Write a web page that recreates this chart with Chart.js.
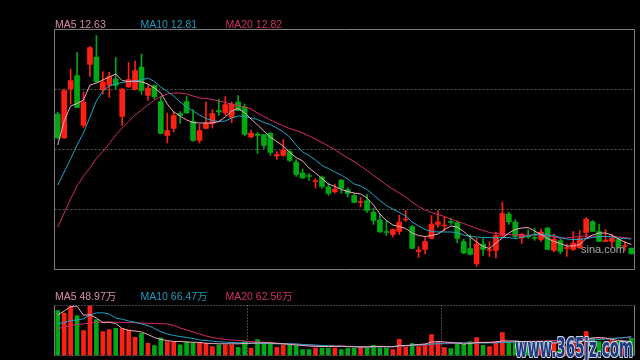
<!DOCTYPE html>
<html><head><meta charset="utf-8">
<script src="https://cdn.jsdelivr.net/npm/chart.js@4.4.1/dist/chart.umd.min.js"></script>
<style>
html,body{margin:0;padding:0;background:#000;width:640px;height:360px;overflow:hidden;}
#wrap{position:relative;width:640px;height:360px;background:#000;}
canvas{position:absolute;left:0;}
#main{top:0;}
#vol{top:280px;}
.lg{position:absolute;font-family:"Liberation Sans",Arial,"Noto Sans CJK SC",sans-serif;font-size:10.5px;line-height:1;white-space:nowrap;}
#sina{position:absolute;left:581px;top:244px;font:11px "Liberation Sans",Arial,sans-serif;line-height:1;color:#9c9c9c;text-shadow:0 0 1px #333;}
#wm2{position:absolute;left:515px;top:335px;font-family:"DejaVu Sans Condensed","DejaVu Sans",sans-serif;font-weight:bold;font-size:26px;line-height:1;color:#1d3b7e;white-space:nowrap;transform-origin:0 0;
text-shadow:1px 0 0 #c8d0e0,-1px 0 0 #c8d0e0,0 1px 0 #c8d0e0,0 -1px 0 #c8d0e0,1px 1px 0 #c8d0e0,-1px -1px 0 #c8d0e0,1px -1px 0 #c8d0e0,-1px 1px 0 #c8d0e0;}
</style></head>
<body><div id="wrap">
<canvas id="main" width="640" height="280"></canvas>
<canvas id="vol" width="640" height="80"></canvas>
<span class="lg" style="left:55px;top:19px;color:#d98aa8">MA5 12.63</span>
<span class="lg" style="left:140.5px;top:19px;color:#1f9bc0">MA10 12.81</span>
<span class="lg" style="left:225.5px;top:19px;color:#d0306a">MA20 12.82</span>
<span class="lg" style="left:55px;top:290.5px;color:#d98aa8">MA5 48.97万</span>
<span class="lg" style="left:140.5px;top:290.5px;color:#1f9bc0">MA10 66.47万</span>
<span class="lg" style="left:225.5px;top:290.5px;color:#d0306a">MA20 62.56万</span>
<span id="sina">sina.com</span>
<span id="wm2">www.365jz.com</span>
</div>
<script>
const days = ['1','2','3','4','5','6','7','8','9','10','11','12','13','14','15','16','17','18','19','20',
'21','22','23','24','25','26','27','28','29','30','31','32','33','34','35','36','37','38','39','40',
'41','42','43','44','45','46','47','48','49','50','51','52','53','54','55','56','57','58','59','60',
'61','62','63','64','65','66','67','68','69','70','71','72','73','74','75','76','77','78','79','80',
'81','82','83','84','85','86','87','88','89','90'];

const openP = [15.31,14.83,15.81,16.08,15.08,16.30,16.45,15.79,15.88,16.01,
15.26,15.85,15.80,16.25,15.68,15.88,15.56,14.88,15.02,15.32,
15.56,15.16,14.78,15.02,15.12,15.38,15.33,15.23,15.55,15.45,
14.85,14.91,14.90,14.93,14.47,14.48,14.56,14.35,14.13,14.08,
13.96,14.05,13.85,13.75,13.99,13.80,13.68,13.54,13.58,13.35,
13.19,12.96,12.90,12.96,13.19,13.06,12.56,12.60,12.82,13.10,
13.07,13.16,13.14,12.76,12.62,12.31,12.71,12.58,12.58,12.88,
13.31,13.15,12.83,12.87,12.83,12.80,13.03,12.58,12.78,12.62,
12.60,12.63,12.94,13.16,12.96,12.76,12.76,12.80,12.66,12.63];

const closeP = [14.83,15.78,15.98,15.44,15.55,16.64,15.95,15.95,16.06,15.88,
15.81,16.00,16.18,15.78,15.83,15.65,14.92,14.98,15.28,15.28,
15.33,14.78,14.98,15.13,15.32,15.35,15.50,15.51,15.38,14.90,
14.93,14.88,14.68,14.54,14.50,14.59,14.38,14.10,14.03,14.06,
13.97,13.86,13.72,13.81,13.82,13.72,13.54,13.56,13.38,13.18,
12.95,12.94,13.00,13.15,13.21,12.62,12.59,12.76,13.11,13.15,
13.09,13.14,12.82,12.53,12.50,12.71,12.60,12.60,12.88,13.32,
13.15,12.86,12.91,12.85,12.82,12.95,12.60,12.81,12.56,12.63,
12.73,12.83,13.21,12.96,12.76,12.79,12.82,12.64,12.67,12.51];

const highP = [15.35,15.81,16.21,16.54,15.75,16.66,16.88,16.16,16.15,16.44,
15.82,16.34,16.37,16.51,15.90,15.89,15.66,15.33,15.36,15.36,
15.66,15.40,15.10,15.55,15.40,15.61,15.66,15.55,15.68,15.51,
14.99,14.94,14.90,14.94,14.56,14.80,14.60,14.40,14.21,14.12,
14.02,14.07,13.93,13.91,14.00,13.84,13.72,13.64,13.70,13.43,
13.31,13.18,13.01,13.29,13.38,13.08,12.66,12.84,13.28,13.38,
13.26,13.23,13.18,12.81,12.90,12.83,12.82,12.76,12.95,13.55,
13.35,13.20,12.92,13.00,13.03,13.01,13.04,12.91,12.83,12.71,
12.96,12.98,13.24,13.18,13.11,13.00,12.90,12.83,12.76,12.63];

const lowP = [14.81,14.82,15.51,15.43,15.04,16.06,15.94,15.71,15.64,15.80,
15.08,15.84,15.79,15.70,15.58,15.61,14.91,14.73,14.95,15.12,
15.32,14.76,14.73,15.01,15.03,15.28,15.28,15.13,15.37,14.88,
14.83,14.52,14.62,14.48,14.40,14.46,14.36,14.06,14.02,13.98,
13.83,13.82,13.68,13.73,13.72,13.65,13.53,13.45,13.34,13.10,
12.94,12.88,12.85,12.90,13.16,12.61,12.44,12.51,12.81,13.04,
12.96,13.10,12.73,12.51,12.49,12.26,12.48,12.46,12.43,12.86,
13.10,12.82,12.72,12.82,12.78,12.76,12.59,12.55,12.51,12.46,
12.58,12.62,12.83,12.96,12.76,12.76,12.64,12.63,12.58,12.51];

const ma5 = [14.69,15.17,15.47,15.52,15.59,15.89,15.93,15.99,16.05,16.11,
15.98,15.96,15.97,15.95,15.91,15.83,15.73,15.51,15.35,15.27,
15.19,15.14,15.13,15.13,15.13,15.16,15.25,15.37,15.42,15.34,
15.21,15.09,14.97,14.85,14.76,14.67,14.54,14.44,14.37,14.23,
14.13,14.02,13.91,13.86,13.80,13.76,13.73,13.71,13.63,13.49,
13.31,13.18,13.09,13.06,13.02,12.93,12.88,12.86,12.88,12.91,
13.00,13.07,13.05,12.96,12.85,12.75,12.66,12.62,12.73,12.83,
12.93,13.00,13.03,13.04,12.97,12.90,12.82,12.76,12.72,12.67,
12.67,12.70,12.82,12.89,12.93,12.93,12.89,12.81,12.75,12.70];

const ma10 = [13.89,14.15,14.41,14.69,14.93,15.25,15.57,15.77,15.87,15.91,
15.94,15.96,15.97,15.99,16.03,15.96,15.85,15.76,15.67,15.55,
15.45,15.37,15.29,15.22,15.18,15.16,15.17,15.23,15.27,15.26,
15.23,15.20,15.14,15.10,15.03,14.95,14.85,14.69,14.55,14.48,
14.39,14.28,14.22,14.15,14.09,14.01,13.91,13.87,13.80,13.69,
13.58,13.48,13.41,13.34,13.27,13.15,13.07,13.00,12.96,12.95,
12.95,12.95,12.94,12.89,12.86,12.85,12.84,12.84,12.83,12.84,
12.84,12.82,12.84,12.87,12.90,12.91,12.89,12.88,12.84,12.81,
12.80,12.80,12.82,12.84,12.86,12.86,12.85,12.83,12.82,12.81];

const ma20 = [13.05,13.33,13.61,13.87,14.07,14.23,14.42,14.56,14.72,14.89,
15.03,15.16,15.29,15.39,15.49,15.59,15.66,15.71,15.73,15.73,
15.71,15.67,15.63,15.62,15.60,15.57,15.54,15.51,15.48,15.45,
15.41,15.33,15.26,15.19,15.13,15.07,15.02,14.98,14.93,14.87,
14.81,14.74,14.67,14.60,14.51,14.43,14.36,14.27,14.18,14.08,
13.99,13.89,13.81,13.73,13.65,13.55,13.46,13.39,13.34,13.30,
13.26,13.21,13.16,13.12,13.07,13.02,12.98,12.94,12.92,12.91,
12.90,12.89,12.88,12.89,12.89,12.89,12.87,12.85,12.83,12.83,
12.85,12.86,12.87,12.87,12.86,12.86,12.86,12.85,12.84,12.82];

const volume = [157.5,148,171.5,140,87.5,175,126,84,91,95.5,
95.5,90,64,78,43,35,62,49,47,37,
48,45.5,46.5,43,31.5,37.5,37.5,37.5,29,49,
25.5,56,41,46.5,29,37.5,35.7,34.3,21,21,
26,26,26,26,21,26,25.5,31,26,35.7,
26.6,26.6,21,56.7,29,41.3,31,36.8,73.5,48.3,
27.3,24.5,41.3,39.5,48.3,62.3,35.7,31,47.3,80.5,
45.5,45.5,42,35,35,42,52,45.5,38.5,31.5,
42,49,84,62,49,38.5,52,49,42,60];

const volMa5 = [141.8,155.8,171.5,172.6,141,142.5,131,115.5,116.6,112,
94.5,87.5,85.8,82.3,73.5,63,56,52.5,49,49,
47.3,46.6,45.5,43,42,41,41,41,41,42,
43,43.8,44.5,43.8,42,41,38.5,36.8,35,33.3,
31.5,31.5,31.5,31.5,32.2,31.5,30.5,29.8,29.8,31.5,
31.5,31.5,29.8,35,35,36.8,38.5,40.3,47.3,49,
47.3,45.5,43.8,40.3,42,45.5,45.5,45.5,47.3,50.8,
50.8,50.8,49,45.5,43.8,43.8,43.8,43.8,43.8,43.8,
45.5,49,56,61.3,63,61.3,56,52.5,50.8,48.97];

const volMa10 = [110.5,115.5,122.5,124.3,128.5,141.8,148.8,149.5,145.3,131.3,
127,120.8,116.6,110.3,105,94.5,84,75.3,70,66.5,
63,59.5,54.3,52.5,50,48,46.6,45.5,44.8,44.1,
43.4,42.7,42,41.3,41,41,41,40.3,38.5,37.5,
36.4,35,34,32.9,32.2,31.5,30.5,29.8,29.8,29.8,
30.5,30.8,31.5,33.3,34.3,35.7,36.8,38.5,40.3,42,
43,43.8,44.5,44.5,43.8,43.8,43.8,43.8,44.5,45.5,
46.2,47.3,47.3,47.3,47.3,47.3,47.3,47.3,47.3,47.3,
48.3,49.7,52.5,54.3,56,57.8,58.8,61.3,63,66.47];

const volMa20 = [93.5,99.8,105,108.5,110.5,113.8,116.2,116.6,116.6,116.6,
116.2,115.5,114.5,113.4,112.7,112,111.3,110.3,105,96.3,
89.3,82.3,75.3,68.3,63,59.5,56,54.3,52.5,50.8,
49,47.3,46.2,44.8,43.4,42,41,39.9,38.5,37.1,
35.7,35,34.3,33.6,32.9,32.2,31.5,31.5,30.8,30.8,
30.8,30.8,31.5,32.2,33.3,34.3,35.7,36.8,38.5,40.3,
41.3,42,43,43.8,44.5,45.5,46.2,46.9,47.3,48,
48.3,49,49,49.7,50,50.8,51.5,52.5,53.2,53.9,
54.6,55.3,56.7,57.4,58.1,58.8,59.9,60.9,62,62.56];

const priceGridTicks = [13.4, 14.6, 15.8];
const volGridBreaks = [30, 60];

const RED = '#ff2014', GREEN = '#00a814';
const C_MA5 = '#eeaabf', C_MA10 = '#1ea4c8', C_MA20 = '#d42a6a';
const isUp = i => closeP[i] >= openP[i];
const candleColor = ctx => isUp(ctx.dataIndex) ? RED : GREEN;

function framePlugin(cfg) {
  return {
    id: 'frame_' + cfg.name,
    beforeDatasetsDraw(chart) {
      const {ctx, chartArea: a, scales: {x, y}} = chart;
      ctx.save();
      ctx.lineWidth = 1;
      ctx.strokeStyle = cfg.gridColor;
      ctx.setLineDash(cfg.gridDash);
      (cfg.yTicks || []).forEach(v => {
        const py = Math.floor(y.getPixelForValue(v)) + 0.5;
        ctx.beginPath(); ctx.moveTo(a.left, py); ctx.lineTo(a.right, py); ctx.stroke();
      });
      (cfg.xBreaks || []).forEach(i => {
        const px = Math.floor((x.getPixelForValue(i - 1) + x.getPixelForValue(i)) / 2) + 0.5;
        ctx.beginPath(); ctx.moveTo(px, a.top); ctx.lineTo(px, a.bottom); ctx.stroke();
      });
      ctx.restore();
    },
    afterDatasetsDraw(chart) {
      const {ctx, chartArea: a} = chart;
      ctx.save();
      ctx.lineWidth = 1;
      const side = (s) => {
        ctx.beginPath();
        if (s === 'top') { ctx.moveTo(a.left, a.top); ctx.lineTo(a.right, a.top); }
        if (s === 'bottom') { ctx.moveTo(a.left, a.bottom); ctx.lineTo(a.right, a.bottom); }
        if (s === 'left') { ctx.moveTo(a.left, a.top); ctx.lineTo(a.left, a.bottom); }
        if (s === 'right') { ctx.moveTo(a.right, a.top); ctx.lineTo(a.right, a.bottom); }
        ctx.stroke();
      };
      ctx.strokeStyle = cfg.frameColor; ctx.setLineDash([]);
      cfg.solid.forEach(side);
      ctx.strokeStyle = cfg.dotColor; ctx.setLineDash(cfg.dotDash || [1, 2]);
      (cfg.dotted || []).forEach(side);
      ctx.restore();
    }
  };
}

const lineDs = (data, color, order) => ({
  type: 'line', data, borderColor: color, borderWidth: 1, pointRadius: 0,
  tension: 0, fill: false, order
});

new Chart(document.getElementById('main'), {
  type: 'bar',
  data: {
    labels: days,
    datasets: [
      lineDs(ma20, C_MA20, -1),
      lineDs(ma10, C_MA10, -2),
      lineDs(ma5, C_MA5, -3),
      { type: 'bar', data: openP.map((o, i) => [o, closeP[i]]), backgroundColor: candleColor,
        barThickness: 5, grouped: false, minBarLength: 1, borderWidth: 0, order: 1 },
      { type: 'bar', data: lowP.map((l, i) => [l, highP[i]]), backgroundColor: candleColor,
        barThickness: 1, grouped: false, borderWidth: 0, order: 2 }
    ]
  },
  options: {
    responsive: false, animation: false, devicePixelRatio: 1, events: [],
    layout: { padding: { left: 54.5, right: 5.5, top: 29.5, bottom: 10.5 } },
    plugins: { legend: { display: false }, tooltip: { enabled: false } },
    scales: {
      x: { display: false, offset: true },
      y: { display: false, min: 12.2, max: 17.0 }
    }
  },
  plugins: [framePlugin({ name: 'main', gridColor: '#5c5c5c', gridDash: [2, 2], yTicks: priceGridTicks,
    frameColor: '#7c7c7c', solid: ['top', 'bottom', 'left', 'right'], dotted: [] })]
});

new Chart(document.getElementById('vol'), {
  type: 'bar',
  data: {
    labels: days,
    datasets: [
      lineDs(volMa20, C_MA20, -1),
      lineDs(volMa10, C_MA10, -2),
      lineDs(volMa5, C_MA5, -3),
      { type: 'bar', data: volume, backgroundColor: candleColor, barThickness: 4,
        grouped: false, borderWidth: 0, order: 1 }
    ]
  },
  options: {
    responsive: false, animation: false, devicePixelRatio: 1, events: [],
    layout: { padding: { left: 54.5, right: 5.5, top: 25.5, bottom: 4.5 } },
    plugins: { legend: { display: false }, tooltip: { enabled: false } },
    scales: {
      x: { display: false, offset: true },
      y: { display: false, min: 0, max: 175 }
    }
  },
  plugins: [framePlugin({ name: 'vol', gridColor: '#8a8a8a', gridDash: [1, 2], xBreaks: volGridBreaks,
    frameColor: '#7c7c7c', solid: ['left', 'right'], dotted: ['top', 'bottom'], dotColor: '#8a8a8a', dotDash: [1, 2] })]
});

const wm = document.getElementById('wm2');
const w = wm.getBoundingClientRect().width;
if (w > 0) wm.style.transform = 'scaleX(' + (118 / w) + ')';
</script>
</body></html>
